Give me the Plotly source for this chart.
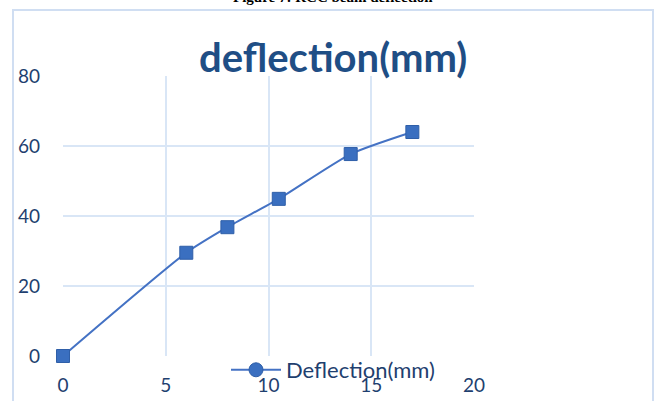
import plotly.graph_objects as go

load_x = [0, 6, 8, 10.5, 14, 17]
deflection = [0, 29.5, 36.8, 44.9, 57.7, 64]
x_ticks = [0, 5, 10, 15, 20]
y_ticks = [0, 20, 40, 60, 80]

L, R, T, B = 63, 188, 76, 45
W, H = 662, 401
pw, ph = W - L - R, H - T - B

def px(x):
    return (x - L) / pw

def py(y):
    return (H - B - y) / ph

tick_color = "#1F3F6F"
grid_color = "#D9E6F6"
series_name = "Deflection(mm)"

fig = go.Figure()
fig.add_trace(go.Scatter(
    x=load_x, y=deflection, mode="lines+markers", name=series_name,
    cliponaxis=False, showlegend=False,
    line=dict(color="#4472C4", width=2, shape="spline", smoothing=0.6),
    marker=dict(symbol="square", size=13, color="#3A6FC0",
                line=dict(color="#2F5FA8", width=1)),
))
fig.add_trace(go.Scatter(
    x=[None], y=[None], mode="lines+markers", name=series_name, showlegend=True,
    line=dict(color="#4472C4", width=2),
    marker=dict(symbol="circle", size=14, color="#3A6FC0",
                line=dict(color="#2F5FA8", width=1)),
))

fig.update_layout(
    width=W, height=H,
    margin=dict(l=L, r=R, t=T, b=B, autoexpand=False),
    paper_bgcolor="white", plot_bgcolor="white",
    font=dict(family="Lato", color=tick_color),
    showlegend=True,
    legend=dict(x=px(226), y=py(370), xanchor="left", yanchor="middle",
                itemwidth=50,
                bgcolor="rgba(0,0,0,0)", font=dict(size=22, color=tick_color)),
    xaxis=dict(range=[0, 20], tickvals=x_ticks, showgrid=True, gridcolor=grid_color,
               gridwidth=1.5, zeroline=False, showline=False, automargin=False,
               tickfont=dict(size=19, color=tick_color), ticklabelstandoff=16),
    yaxis=dict(range=[0, 80], tickvals=y_ticks, showgrid=True, gridcolor=grid_color,
               gridwidth=1.5, zeroline=False, showline=False, automargin=False,
               tickfont=dict(size=19, color=tick_color), ticklabelstandoff=22),
    shapes=[dict(type="rect", xref="paper", yref="paper",
                 x0=px(13), x1=px(653), y0=py(415), y1=py(10),
                 line=dict(color="#D0DEF2", width=2), layer="below")],
    annotations=[
        dict(text="<b>deflection(mm)</b>", xref="paper", yref="paper",
             x=px(333), y=py(57), xanchor="center", yanchor="middle",
             showarrow=False, font=dict(family="Lato", size=40, color="#1F4E85")),
        dict(text="<b>Figure 7: RCC beam deflection</b>", xref="paper", yref="paper",
             x=px(333), y=py(7), xanchor="center", yanchor="bottom",
             showarrow=False, font=dict(family="Liberation Serif", size=15, color="black")),
    ],
)
fig.write_html("out.html", config={"displayModeBar": False},
               post_script="document.body.style.margin='0';document.body.style.overflow='hidden';")
